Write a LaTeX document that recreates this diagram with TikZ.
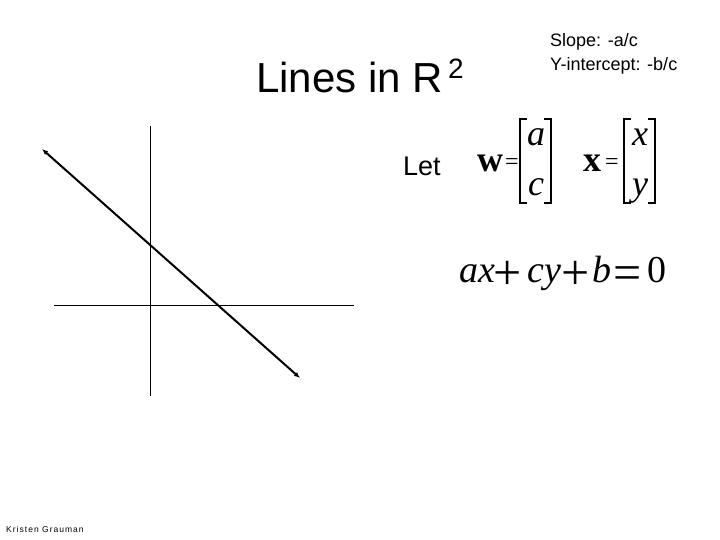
\documentclass[tikz,border=0pt]{standalone}
\usepackage{fontspec}
\setmainfont{Liberation Sans}
\newfontfamily\timesf{Liberation Serif}
\newfontfamily\authorf[LetterSpace=12]{Liberation Sans}
\usetikzlibrary{arrows.meta}
\tikzset{
  axisline/.style={line width=0.9pt, black},
  mainline/.style={line width=2pt, black, {Latex[length=6pt,width=5pt]}-{Latex[length=6pt,width=5pt]}},
  brk/.style={line width=1.6pt, black},
  eqtext/.style={inner sep=0pt, anchor=base, font=\timesf\fontsize{36}{40}\selectfont},
  bigeq/.style={inner sep=0pt, anchor=base, font=\timesf\fontsize{38}{42}\selectfont},
  bigop/.style={inner sep=0pt, anchor=center, font=\timesf\fontsize{50}{54}\selectfont},
  smalleq/.style={inner sep=0pt, anchor=center, font=\timesf\fontsize{24}{28}\selectfont},
  txt/.style={inner sep=0pt, anchor=base west}
}
\begin{document}
\begin{tikzpicture}[x=1pt,y=-1pt]
\useasboundingbox (0,0) rectangle (720,540);
% title texts
\node[txt, font=\fontsize{42}{48}\selectfont] (title) at (256,93) {Lines in R};
\node[txt, font=\fontsize{28}{32}\selectfont] (sup) at (448,79) {2};
\node[txt, font=\fontsize{27}{32}\selectfont] (let) at (403,176) {Let};
\node[txt, font=\fontsize{18}{22}\selectfont] (slope) at (550,47) {Slope: -a/c};
\node[txt, font=\fontsize{18}{22}\selectfont] (yint) at (550,71) {Y-intercept: -b/c};
\node[txt, font=\authorf\fontsize{8.5}{10}\selectfont] (author) at (6,532) {Kristen Grauman};
% axes
\coordinate (vt) at (150,126);
\coordinate (vb) at (150,396);
\coordinate (hl) at (54,305);
\coordinate (hr) at (354,305);
\draw[axisline] (vt) -- (vb);
\draw[axisline] (hl) -- (hr);
% line
\coordinate (la) at (42,149);
\coordinate (lb) at (300,378);
\draw[mainline] (la) -- (lb);
% vector w
\node[eqtext] (w) at (490,172) {\bfseries w};
\node[smalleq] (weq) at (512,164) {=};
\node[eqtext] (wa) at (536,146) {\itshape a};
\node[eqtext] (wc) at (536,196) {\itshape c};
\coordinate (wl1) at (527,119); \coordinate (wl2) at (520,119);
\coordinate (wl3) at (520,203); \coordinate (wl4) at (527,203);
\draw[brk] (wl1) -- (wl2) -- (wl3) -- (wl4);
\coordinate (wr1) at (544,119); \coordinate (wr2) at (551,119);
\coordinate (wr3) at (551,203); \coordinate (wr4) at (544,203);
\draw[brk] (wr1) -- (wr2) -- (wr3) -- (wr4);
% vector x
\node[eqtext] (x) at (592,172) {\bfseries x};
\node[smalleq] (xeq) at (612,164) {=};
\node[eqtext] (xx) at (640,146) {\itshape x};
\node[eqtext] (xy) at (640,196) {\itshape y};
\coordinate (xl1) at (631,119); \coordinate (xl2) at (624,119);
\coordinate (xl3) at (624,203); \coordinate (xl4) at (631,203);
\draw[brk] (xl1) -- (xl2) -- (xl3) -- (xl4);
\coordinate (xr1) at (648,119); \coordinate (xr2) at (655,119);
\coordinate (xr3) at (655,203); \coordinate (xr4) at (648,203);
\draw[brk] (xr1) -- (xr2) -- (xr3) -- (xr4);
% equation
\node[bigeq] (eax) at (477,282) {\itshape ax};
\node[bigop] (ep1) at (508,275) {+};
\node[bigeq] (ecy) at (544,282) {\itshape cy};
\node[bigop] (ep2) at (576,275) {+};
\node[bigeq] (eb) at (602,282) {\itshape b};
\node[bigop] (eeq) at (628,278) {=};
\node[bigeq] (e0) at (657,282) {0};
\end{tikzpicture}
\end{document}
